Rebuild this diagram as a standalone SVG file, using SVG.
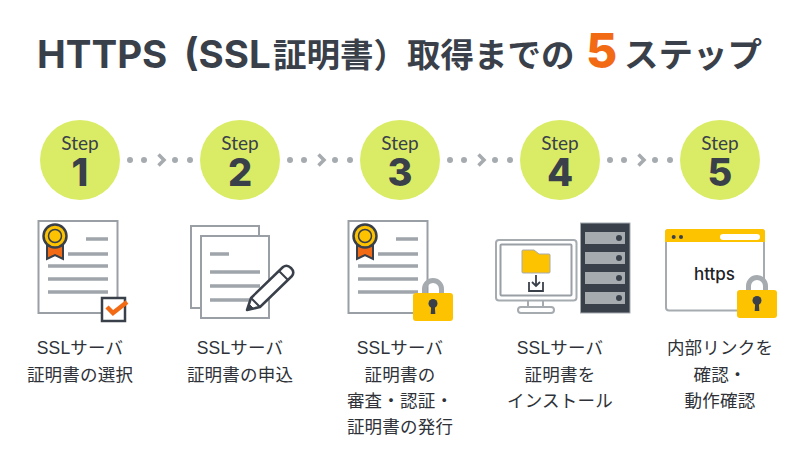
<svg xmlns="http://www.w3.org/2000/svg" width="800" height="460" viewBox="0 0 800 460">
<style>
.t{font-family:Inter,"Liberation Sans",sans-serif;font-weight:700;fill:#3a404a;font-size:38.500px}
.j{font-family:"Noto Sans CJK JP",sans-serif;font-weight:700;fill:#3a404a;font-size:33.500px}
.c{fill:#daec66}
.st{font-family:Lato,sans-serif;font-size:19px;fill:#3a404a;text-anchor:middle}
.n{font-family:Inter,sans-serif;font-weight:800;font-size:38px}
.cap{font-family:"Liberation Sans","Noto Sans CJK JP",sans-serif;font-size:17.500px;fill:#2e3238;text-anchor:middle;letter-spacing:.2px}
.d{fill:#a6abb0}
.ln{stroke:#9fa5ab;stroke-width:3.500;fill:none}
.pg{fill:#fff;stroke:#9a9fa5;stroke-width:2}
</style>
<defs>
<g id="cert">
<rect class="pg" x="38.500" y="221" width="79" height="92"/>
<path class="ln" d="M86 239H108M68 254H108M48 266H108M48 279H108M48 292H108"/>
<path d="M47 243V259L55 255L63 259V243Z" fill="#f26a13" stroke="#3a404a" stroke-width="2"/>
<circle cx="55" cy="236" r="11.500" fill="#fdc200" stroke="#3a404a" stroke-width="2.500"/>
<circle cx="55" cy="236" r="6.500" fill="#fdc200" stroke="#3a404a" stroke-width="1.500"/>
</g>
<g id="lock">
<path d="M-8.500 16V11A8.500 8.500 0 0 1 8.500 11V16" fill="none" stroke="#a6abb0" stroke-width="5"/>
<rect x="-20" y="15" width="40" height="28" rx="3" fill="#fdc200"/>
<circle cy="25.500" r="4.500" fill="#3a404a"/>
<path d="M-1.800 27H1.800L2.300 36H-2.300Z" fill="#3a404a"/>
</g>
<path id="chev" d="M0 0L5.500 5.500L0 11" fill="none" stroke="#a6abb0" stroke-width="3.500"/>
</defs>
<rect width="800" height="460" fill="#fff"/>
<g id="title">
<text class="t" x="37" y="67.500">HTTPS</text>
<text class="t" x="184" y="67.500">(SSL</text>
<text class="j" x="273" y="67">証明書）</text>
<text class="j" x="407" y="67">取得までの</text>
<text x="586" y="68" font-family="Inter,sans-serif" font-weight="800" font-size="48" fill="#f26a13">5</text>
<text class="j" x="624" y="67" style="font-size:34.500px">ステップ</text>
</g>
<g id="connectors">
<circle class="d" cx="130" cy="160" r="3"/><circle class="d" cx="144" cy="160" r="3"/><use href="#chev" x="158.500" y="154.500"/><circle class="d" cx="175" cy="160" r="3"/><circle class="d" cx="190" cy="160" r="3"/>
<circle class="d" cx="290" cy="160" r="3"/><circle class="d" cx="304" cy="160" r="3"/><use href="#chev" x="318.500" y="154.500"/><circle class="d" cx="335" cy="160" r="3"/><circle class="d" cx="350" cy="160" r="3"/>
<circle class="d" cx="450" cy="160" r="3"/><circle class="d" cx="464" cy="160" r="3"/><use href="#chev" x="478.500" y="154.500"/><circle class="d" cx="495" cy="160" r="3"/><circle class="d" cx="510" cy="160" r="3"/>
<circle class="d" cx="610" cy="160" r="3"/><circle class="d" cx="624" cy="160" r="3"/><use href="#chev" x="638.500" y="154.500"/><circle class="d" cx="655" cy="160" r="3"/><circle class="d" cx="670" cy="160" r="3"/>
</g>
<g id="step1">
<circle class="c" cx="80" cy="160" r="40"/>
<text class="st" x="80" y="150">Step<tspan class="n" x="80" y="186">1</tspan></text>
<use href="#cert"/>
<rect x="102" y="298" width="23" height="23" fill="#fff" stroke="#3a404a" stroke-width="2.500"/>
<path d="M107 307L113 313L127 302" fill="none" stroke="#f26a13" stroke-width="4.500"/>
<text class="cap" x="80" y="354">SSLサーバ</text><text class="cap" x="80" y="381">証明書の選択</text>
</g>
<g id="step2">
<circle class="c" cx="240" cy="160" r="40"/>
<text class="st" x="240" y="150">Step<tspan class="n" x="240" y="186">2</tspan></text>
<rect class="pg" x="191" y="226" width="68" height="82"/>
<rect class="pg" x="201" y="236" width="68" height="82"/>
<path class="ln" d="M210 254H229M210 272H260M210 286H260M210 300H260"/>
<path d="M247 310L251 298L283 267Q287 264 291 268Q295 272 292 276L260 307Z" fill="#fff" stroke="#3a404a" stroke-width="2.500" stroke-linejoin="round"/>
<path d="M251 298L260 307M279 271L288 280" fill="none" stroke="#3a404a" stroke-width="2"/>
<path d="M247 310L249 304L253 308Z" fill="#3a404a" stroke="#3a404a"/>
<text class="cap" x="240" y="354">SSLサーバ</text><text class="cap" x="240" y="381">証明書の申込</text>
</g>
<g id="step3">
<circle class="c" cx="400" cy="160" r="40"/>
<text class="st" x="400" y="150">Step<tspan class="n" x="400" y="186">3</tspan></text>
<use href="#cert" x="310"/>
<use href="#lock" x="433" y="278"/>
<text class="cap" x="400" y="354">SSLサーバ</text><text class="cap" x="400" y="381">証明書の</text><text class="cap" x="400" y="407">審査・認証・</text><text class="cap" x="400" y="433">証明書の発行</text>
</g>
<g id="step4">
<circle class="c" cx="560" cy="160" r="40"/>
<text class="st" x="560" y="150">Step<tspan class="n" x="560" y="186">4</tspan></text>
<rect x="496" y="240" width="80.500" height="60.500" rx="3" fill="#fff" stroke="#a6abb0" stroke-width="2"/>
<rect x="500.500" y="244.500" width="71" height="51" rx="1" fill="#fff" stroke="#9a9fa5" stroke-width="2"/>
<path d="M528 301V307M543 301V307" stroke="#a6abb0" stroke-width="2"/>
<rect x="518" y="307" width="36" height="6" rx="3" fill="#fff" stroke="#a6abb0" stroke-width="2"/>
<path d="M522 272V251Q522 250 523 250H534L539 254H549Q550 254 550 255V272Q550 273 549 273H523Q522 273 522 272Z" fill="#fdc200" stroke="#a6abb0"/>
<path d="M529 282V291H543V282M536 275V286M532 282L536 286L540 282" fill="none" stroke="#3a404a" stroke-width="1.800"/>
<rect x="580.500" y="223" width="49.500" height="90" fill="#3a404a" stroke="#a6abb0"/>
<g fill="#a6abb0"><rect x="585" y="232" width="40" height="12"/><rect x="585" y="252" width="40" height="12"/><rect x="585" y="272" width="40" height="12"/><rect x="585" y="292" width="40" height="12"/></g>
<g fill="#3a404a"><circle cx="619" cy="238" r="3"/><circle cx="619" cy="258" r="3"/><circle cx="619" cy="278" r="3"/><circle cx="619" cy="298" r="3"/></g>
<text class="cap" x="560" y="354">SSLサーバ</text><text class="cap" x="560" y="381">証明書を</text><text class="cap" x="560" y="407">インストール</text>
</g>
<g id="step5">
<circle class="c" cx="720" cy="160" r="40"/>
<text class="st" x="720" y="150">Step<tspan class="n" x="720" y="186">5</tspan></text>
<rect x="666" y="230" width="98" height="80.500" rx="3" fill="#fff" stroke="#a6abb0" stroke-width="2"/>
<path d="M665 242V232Q665 229 668 229H762Q765 229 765 232V242Z" fill="#fdc200"/>
<circle cx="673.700" cy="237" r="2" fill="#3a404a"/><circle cx="681" cy="237" r="2" fill="#3a404a"/>
<rect x="720" y="234" width="40" height="6" rx="3" fill="#fff"/>
<text x="714.500" y="279.500" font-family="Inter,sans-serif" font-weight="500" font-size="17" fill="#1f2227" text-anchor="middle">https</text>
<use href="#lock" x="757" y="275"/>
<text class="cap" x="720" y="354">内部リンクを</text><text class="cap" x="720" y="381">確認・</text><text class="cap" x="720" y="407">動作確認</text>
</g>
</svg>
